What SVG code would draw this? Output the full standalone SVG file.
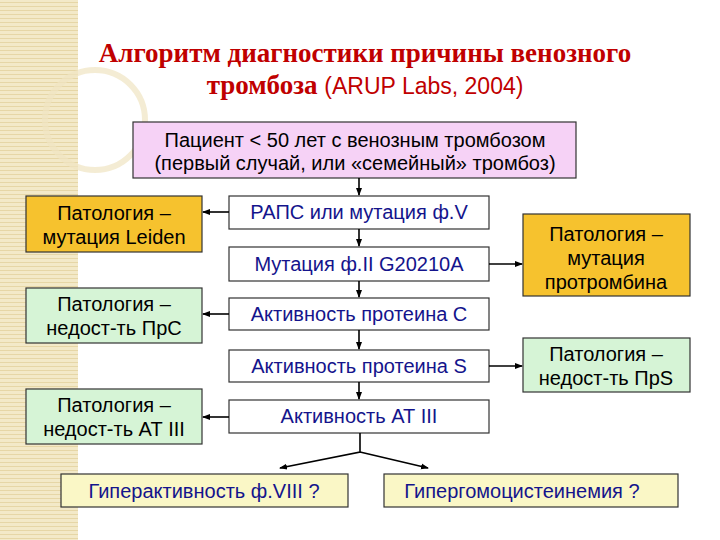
<svg xmlns="http://www.w3.org/2000/svg" width="720" height="540" viewBox="0 0 720 540">
<defs>
<pattern id="stripes" width="6" height="4" patternUnits="userSpaceOnUse">
<rect width="6" height="4" fill="#F3E9C8"/>
<rect y="2" width="6" height="1" fill="#E6D6A6"/>
</pattern>
<marker id="ah" markerWidth="8" markerHeight="8" refX="7" refY="4" orient="auto" markerUnits="userSpaceOnUse">
<path d="M0,1 L8,4 L0,7 z" fill="#000"/>
</marker>
</defs>
<style>
.b{stroke:#333;stroke-width:1.2}
.t{font-family:"Liberation Sans",Arial,sans-serif;font-size:20px;text-anchor:middle;fill:#000}
.c{fill:#14148C}
.ttl{font-family:"Liberation Serif","Times New Roman",serif;font-size:27px;font-weight:bold;fill:#C00000;text-anchor:middle}
.con line,.con path{stroke:#000;stroke-width:1.6;fill:none;marker-end:url(#ah)}
</style>
<rect width="720" height="540" fill="#fff"/>
<rect x="0" y="0" width="78" height="540" fill="url(#stripes)"/>
<circle cx="95" cy="120" r="50" fill="none" stroke="#EFE4C2" stroke-width="6" opacity="0.7"/>
<text class="ttl" x="365" y="62">Алгоритм диагностики причины венозного</text>
<text class="ttl" x="365" y="94">тромбоза <tspan font-weight="normal" font-family="'Liberation Sans',sans-serif" font-size="23">(ARUP Labs, 2004)</tspan></text>
<g id="n-top"><rect class="b" x="133" y="122" width="443" height="56" fill="#F6D2F6"/>
<text class="t" x="355" y="147">Пациент &lt; 50 лет с венозным тромбозом</text>
<text class="t" x="355" y="170">(первый случай, или «семейный» тромбоз)</text></g>
<g id="n-raps"><rect class="b" x="229" y="196" width="260" height="33" fill="#fff"/><text class="t c" x="359" y="219">РАПС или мутация ф.V</text></g>
<g id="n-mut"><rect class="b" x="229" y="247" width="260" height="34" fill="#fff"/><text class="t c" x="359" y="271">Мутация ф.II G20210A</text></g>
<g id="n-pc"><rect class="b" x="229" y="298" width="260" height="32" fill="#fff"/><text class="t c" x="359" y="321">Активность протеина С</text></g>
<g id="n-ps"><rect class="b" x="229" y="350" width="260" height="32" fill="#fff"/><text class="t c" x="359" y="373">Активность протеина S</text></g>
<g id="n-at"><rect class="b" x="229" y="400" width="260" height="33" fill="#fff"/><text class="t c" x="359" y="423">Активность АТ III</text></g>
<g id="n-leiden"><rect class="b" x="26" y="196" width="176" height="56" fill="#F6C22E"/><text class="t" x="114" y="220">Патология –</text><text class="t" x="114" y="244">мутация Leiden</text></g>
<g id="n-lpc"><rect class="b" x="26" y="288" width="176" height="55" fill="#D6F4D6"/><text class="t" x="114" y="311">Патология –</text><text class="t" x="114" y="335">недост-ть ПрС</text></g>
<g id="n-lat"><rect class="b" x="26" y="389" width="176" height="55" fill="#D6F4D6"/><text class="t" x="114" y="412">Патология –</text><text class="t" x="114" y="436">недост-ть АТ III</text></g>
<g id="n-proth"><rect class="b" x="523" y="214" width="167" height="82" fill="#F6C22E"/><text class="t" x="606" y="241">Патология –</text><text class="t" x="606" y="265">мутация</text><text class="t" x="606" y="289">протромбина</text></g>
<g id="n-rps"><rect class="b" x="523" y="338" width="167" height="54" fill="#D6F4D6"/><text class="t" x="606" y="361">Патология –</text><text class="t" x="606" y="385">недост-ть ПрS</text></g>
<g id="n-f8"><rect class="b" x="61" y="474" width="287" height="33" fill="#FAF7C6"/><text class="t c" x="204" y="498">Гиперактивность ф.VIII ?</text></g>
<g id="n-hcy"><rect class="b" x="384" y="474" width="294" height="33" fill="#FAF7C6"/><text class="t c" x="522" y="498">Гипергомоцистеинемия ?</text></g>
<g class="con">
<line x1="359" y1="178" x2="359" y2="195"/>
<line x1="359" y1="229" x2="359" y2="246"/>
<line x1="359" y1="281" x2="359" y2="297"/>
<line x1="359" y1="330" x2="359" y2="349"/>
<line x1="359" y1="382" x2="359" y2="399"/>
<line x1="229" y1="212" x2="203" y2="212"/>
<line x1="229" y1="314" x2="203" y2="314"/>
<line x1="229" y1="417" x2="203" y2="417"/>
<line x1="489" y1="264" x2="522" y2="264"/>
<line x1="489" y1="366" x2="522" y2="366"/>
<path d="M360,433 L360,452 L280,468"/>
<path d="M360,452 L428,468"/>
</g>
</svg>
